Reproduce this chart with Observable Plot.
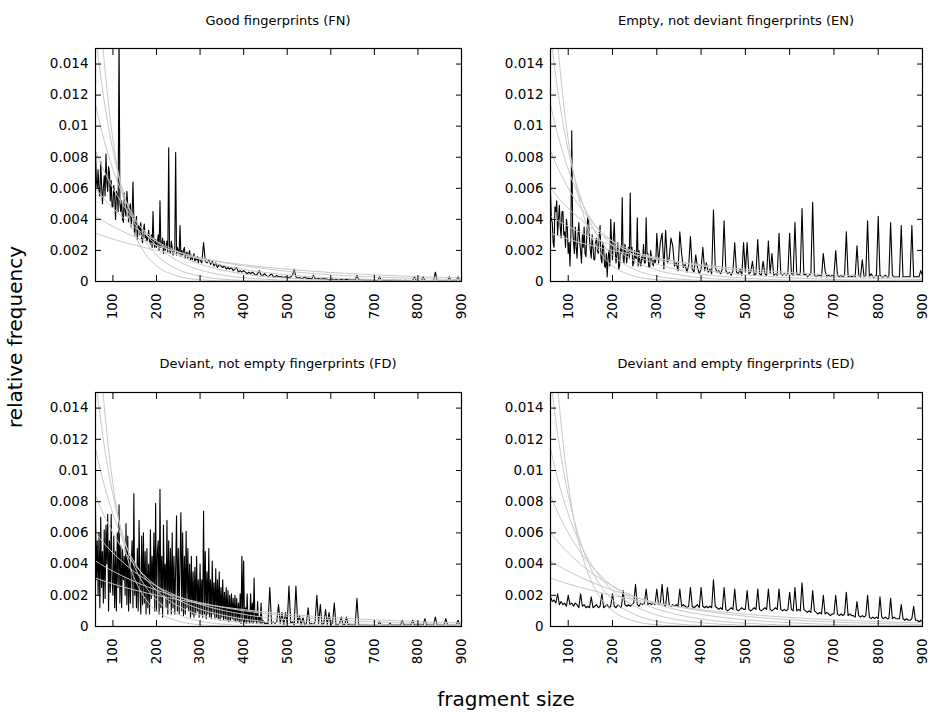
<!DOCTYPE html>
<html><head><meta charset="utf-8">
<script src="https://cdn.jsdelivr.net/npm/d3@7"></script>
<script src="https://cdn.jsdelivr.net/npm/@observablehq/plot@0.6"></script>
<style>
body{margin:0;background:#fff;}
#root{position:relative;width:930px;height:715px;font-family:"DejaVu Sans",sans-serif;overflow:hidden;background:#fff;}
.title{position:absolute;font-size:13px;line-height:13px;white-space:nowrap;transform:translateX(-50%);color:#000;}
.panel{position:absolute;}
.axlab{position:absolute;font-size:20px;line-height:20px;white-space:nowrap;color:#000;}
</style></head><body><div id="root"></div>
<script>
// relative frequencies are stored in units of 0.0001
const UNIT = 1e-4;
// fragment sizes at which each series was read (finer where the series is dense)
const fnSizes = d3.range(60, 300, 2).concat(d3.range(300, 901, 4));
const enSizes = d3.range(60, 300, 2).concat(d3.range(300, 901, 4));
const fdSizes = d3.range(60, 450, 2).concat(d3.range(452, 901, 4));
const edSizes = d3.range(60, 901, 4);
const xTicks = [100, 200, 300, 400, 500, 600, 700, 800, 900];
const yTicks = [0, 0.002, 0.004, 0.006, 0.008, 0.01, 0.012, 0.014];
const titles = ["Good fingerprints (FN)", "Empty, not deviant fingerprints (EN)", "Deviant, not empty fingerprints (FD)", "Deviant and empty fingerprints (ED)"];
const xLabel = "fragment size";
const yLabel = "relative frequency";

const fnValues = [
84,65,60,72,58,55,77,62,50,60,
68,55,82,64,58,74,70,52,65,48,
48,62,55,40,58,55,45,160,50,45,
52,40,38,57,45,42,58,50,38,47,
50,35,43,64,40,30,38,42,27,35,
36,30,38,28,25,33,37,28,30,26,
28,33,26,24,30,22,45,25,22,27,
22,25,30,20,52,22,24,28,18,26,
20,22,26,19,86,20,18,26,22,17,
19,21,83,17,22,20,18,36,16,20,
17,20,22,15,18,19,15,17,20,14,
17,14,16,18,13,15,14,16,12,15,
14,12,25,13,12,14,11,13,10,12,9,11,10,
9,10,8,9,8,9,7,8,9,6,7,6,7,
6,5,6,5,6,5,4,5,7,4,4,5,
4,3,4,5,3,3,4,3,3,3,2.5,3,2.5,
2.5,3,4,8,3,2,2.5,2,2,3,2,2,
2,1.5,4,2,1.5,2,1.5,1.5,2,1.5,1.5,1,1.5,
1.5,1,1.5,1,1,1.5,1,1,1.5,1,1,1,
1,1,4,1,1,1,0.8,1,0.8,1,0.8,0.8,1,
0.8,0.8,3,0.8,0.8,0.7,0.8,0.7,0.7,0.8,0.7,0.7,
0.7,0.6,0.7,0.6,0.6,0.7,0.6,0.6,0.6,0.6,3,0.6,0.5,
0.5,0.5,3,0.5,0.5,0.5,0.5,0.5,0.5,6,0.5,0.5,
0.5,0.4,0.5,0.4,0.4,3,0.4,0.4,0.4,0.4,3,0.4,0.4];

const enValues = [
57,40,38,25,22,48,45,52,30,40,
49,35,28,45,45,30,32,22,40,35,
18,25,10,30,97,35,25,18,35,22,
15,30,38,25,20,12,30,22,35,18,
16,30,42,39,28,20,15,30,22,14,
14,25,28,20,18,30,36,15,12,25,
22,10,9,18,3,15,20,10,40,25,
14,28,38,20,12,18,25,8,10,22,
18,54,15,12,24,20,12,18,22,15,
57,18,22,10,12,20,15,15,41,10,
20,12,10,16,14,24,12,12,41,18,
18,9,9,20,16,12,10,14,12,14,
31,12,25,31,8,33,12,15,28,23,10,12,7,
32,18,9,11,6,10,29,8,6,17,9,5,8,
22,7,12,6,8,5,46,9,6,7,5,8,
39,7,5,6,4,7,25,6,5,8,4,25,6,
25,5,6,13,4,5,27,5,4,13,5,4,
26,5,18,4,5,4,31,5,4,5,4,5,31,
5,4,38,5,4,5,47,4,5,3,4,5,
51,4,3,4,4,3,18,7,3,4,3,4,4,
20,4,3,4,3,4,32,3,4,3,4,3,
23,4,3,14,3,4,39,3,5,3,3,4,42,
4,3,3,4,3,3,38,4,3,3,3,3,
36,3,3,3,3,3,36,3,3,3,3,7,4];

const fdValues = [
74,30,55,20,60,12,70,25,48,15,
62,18,65,40,72,10,55,22,72,30,
20,58,12,48,10,60,25,78,15,52,
12,50,30,45,20,66,14,58,10,45,
15,38,55,12,85,20,40,12,50,10,
68,25,8,58,14,60,15,48,8,50,
12,40,8,62,18,45,20,60,10,79,
10,48,55,8,88,12,45,6,65,20,
40,12,68,8,55,15,50,8,60,12,
45,8,38,71,10,50,8,40,73,10,
60,7,45,8,61,12,50,10,40,6,
45,8,35,6,38,8,45,10,30,6,
40,8,30,6,74,8,48,5,35,8,
50,6,30,5,42,8,28,5,37,6,
30,5,35,4,25,6,30,4,22,5,
25,4,23,3,20,4,21,5,18,4,
20,3,18,4,15,3,21,2,45,4,
42,3,12,2,21,3,10,2,21,3,
15,2,31,3,9,2,16,3,6,2,
15,2,4,3,2,
2,2,25,2,3,2,3,14,2,9,1,9,2,
26,2,3,1,26,2,7,1,6,1,2,12,
1,2,1,3,20,2,14,1,2,11,1,9,1,
2,15,1,1,2,6,1,1,6,1,1,1,
1,1,18,1,1,1,1,1,1,1,1,1,1,
1,1,3,1,1,1,1,1,2,1,1,1,
1,1,1,4,1,1,1,1,1,4,1,1,1,
1,1,1,5,1,1,1,1,1,6,1,1,
1,1,1,5,1,1,1,1,1,1,4,1,1];

const edValues = [
19,16,17,15,21,14,16,14,15,13,20,
14,15,13,15,14,12,21,13,14,12,13,12,
19,12,13,14,12,13,21,12,13,14,12,13,
21,13,12,14,13,12,23,14,13,14,13,14,
15,27,14,13,15,14,15,24,14,15,14,15,14,
24,14,15,27,14,13,25,14,13,14,13,14,13,
24,13,14,13,12,13,25,13,12,13,14,12,25,
13,12,13,12,13,12,30,13,12,11,12,11,
25,11,10,11,12,11,24,11,10,11,12,11,11,
23,11,10,11,12,11,24,11,10,11,12,11,
24,11,10,11,12,11,24,11,10,11,10,11,22,
11,10,25,10,11,10,28,11,10,9,10,9,
23,10,9,8,9,8,20,8,9,8,7,8,8,
20,8,7,8,7,8,22,7,8,7,7,6,
16,7,6,7,6,7,20,6,5,6,5,6,5,
19,6,5,6,5,5,18,5,6,5,5,5,
14,5,4,5,4,4,5,13,4,4,3,4,3];

// fitted reference curves (grey), read at these fragment sizes
const curveX = [60,70,80,90,100,120,140,160,180,200,250,300,350,400,500,600,700,800,900];
const curve1 = [31,30.1,29.1,28.2,27.3,25.6,24.1,22.7,21.3,20.0,17.2,14.7,12.6,10.8,7.9,5.8,4.3,3.1,2.3];
const curve2 = [42,40.3,38.6,37.0,35.5,32.6,30.0,27.6,25.4,23.3,18.9,15.3,12.4,10.1,6.6,4.3,2.9,1.9,1.2];
const curve3 = [60,56.5,53.2,50.1,47.2,41.9,37.1,32.9,29.2,25.9,19.2,14.2,10.5,7.8,4.3,2.4,1.3,0.7,0.4];
const curve4 = [84,77.2,71.0,65.3,60.0,50.7,42.9,36.3,30.7,25.9,17.0,11.2,7.4,4.8,2.1,0.9,0.4,0.2,0.1];
const curve5 = [114,101.7,90.7,80.9,72.2,57.5,45.8,36.5,29.0,23.1,13.1,7.4,4.2,2.4,0.8,0.2,0.1,0,0];
const curve6 = [160,136.3,116.2,99.0,84.4,61.3,44.5,32.3,23.5,17.0,7.7,3.4,1.5,0.7,0.1,0,0,0,0];
const curve7 = [220,176.6,141.7,113.7,91.3,58.8,37.8,24.4,15.7,10.1,3.4,1.1,0.4,0.1,0,0,0,0,0];
const curves = [curve1, curve2, curve3, curve4, curve5, curve6, curve7];

const root = document.getElementById("root");
const fmt = d => String(+d.toFixed(3));

function panel(sizes, values, title, left, top, mLeft, frameW, frameH) {
  const data = sizes.map((x, i) => ({x, y: values[i] * UNIT}));
  const grey = curves.flatMap((c, k) => curveX.map((x, i) => ({k, x, y: c[i] * UNIT})));
  const p = Plot.plot({
    width: mLeft + frameW + 8, height: 10 + frameH + 45,
    marginLeft: mLeft, marginRight: 8, marginTop: 10, marginBottom: 45,
    x: {domain: [60, 900]}, y: {domain: [0, 0.015]},
    style: {fontFamily: "DejaVu Sans", fontSize: "13.5px", color: "black", background: "transparent", overflow: "visible"},
    marks: [
      Plot.lineY(data, {x: "x", y: "y", stroke: "black", strokeWidth: 1.1, clip: true}),
      Plot.line(grey, {x: "x", y: "y", z: "k", stroke: "#c8c8c8", strokeWidth: 1, curve: "monotone-x", clip: true}),
      Plot.frame({stroke: "black", strokeWidth: 1.2}),
      Plot.axisY({anchor: "left", ticks: yTicks, tickSize: 0, tickPadding: 7, tickFormat: fmt, label: null}),
      Plot.axisY({anchor: "left", ticks: yTicks, tickSize: 6, dx: 6, tickFormat: () => "", label: null}),
      Plot.axisY({anchor: "right", ticks: yTicks, tickSize: 6, dx: -6, tickFormat: () => "", label: null}),
      Plot.axisX({anchor: "bottom", ticks: xTicks, tickSize: 6, dy: -6, tickFormat: () => "", label: null}),
      Plot.axisX({anchor: "top", ticks: xTicks, tickSize: 6, dy: 6, tickFormat: () => "", label: null}),
      Plot.text(xTicks, {x: d => d, frameAnchor: "bottom", text: d => String(d), rotate: -90, textAnchor: "end", lineAnchor: "middle", dy: 12})
    ]
  });
  p.classList.add("panel");
  p.style.left = left + "px";
  p.style.top = top + "px";
  root.appendChild(p);
  const t = document.createElement("div");
  t.className = "title";
  t.textContent = title;
  t.style.left = (left + mLeft + frameW / 2) + "px";
  t.style.top = (top < 100 ? 14 : 357) + "px";
  root.appendChild(t);
}

panel(fnSizes, fnValues, titles[0], 0, 38, 95, 366, 233);
panel(enSizes, enValues, titles[1], 465, 38, 85, 372, 233);
panel(fdSizes, fdValues, titles[2], 0, 382, 95, 366, 234);
panel(edSizes, edValues, titles[3], 465, 382, 85, 372, 234);

const yl = document.createElement("div");
yl.className = "axlab";
yl.textContent = yLabel;
yl.style.left = "15px"; yl.style.top = "337px";
yl.style.transform = "translate(-50%,-50%) rotate(-90deg)";
root.appendChild(yl);
const xl = document.createElement("div");
xl.className = "axlab";
xl.textContent = xLabel;
xl.style.left = "506px"; xl.style.top = "689px";
xl.style.transform = "translateX(-50%)";
root.appendChild(xl);

const pairs = [[fnSizes, fnValues], [enSizes, enValues], [fdSizes, fdValues], [edSizes, edValues]];
if (pairs.some(([s, v]) => s.length !== v.length)) {
  const w = document.createElement("div");
  w.style.cssText = "position:absolute;left:300px;top:150px;color:red;font-size:20px";
  w.textContent = "LEN " + pairs.map(([s, v]) => s.length + "/" + v.length).join(" ");
  root.appendChild(w);
}
</script></body></html>
